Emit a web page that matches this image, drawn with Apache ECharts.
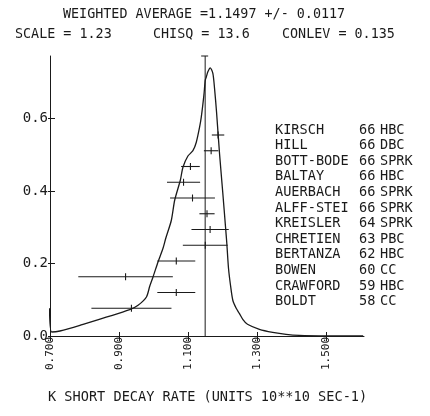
<!DOCTYPE html>
<html><head><meta charset="utf-8">
<script src="https://cdn.jsdelivr.net/npm/echarts@6/dist/echarts.min.js"></script>
<style>html,body{margin:0;padding:0;background:#fff}#c{width:430px;height:416px}</style>
</head><body><div id="c"></div>
<script>
// ---- data ----
const names   = ['KIRSCH','HILL','BOTT-BODE','BALTAY','AUERBACH','ALFF-STEI','KREISLER','CHRETIEN','BERTANZA','BOWEN','CRAWFORD','BOLDT'];
const years   = ['66','66','66','66','66','66','64','63','62','60','59','58'];
const methods = ['HBC','DBC','SPRK','HBC','SPRK','SPRK','SPRK','PBC','HBC','CC','HBC','CC'];
const values  = [1.187,1.167,1.107,1.087,1.113,1.155,1.164,1.150,1.066,0.919,1.066,0.936];
const errors  = [0.018,0.021,0.027,0.048,0.065,0.022,0.054,0.065,0.055,0.137,0.055,0.116];
const weightedAverage = 1.1497, averageError = 0.0117, scaleFactor = 1.23, chiSquare = 13.6, confLevel = 0.135;
const curveX = [0.6986,0.7049,0.7289,0.7867,0.9312,0.9552,0.9795,0.989,0.9986,1.013,1.0275,1.0353,1.0517,1.0613,1.0777,1.0853,1.0997,1.1142,1.124,1.1335,1.1384,1.146,1.150,1.1529,1.1575,1.1645,1.172,1.1769,1.1827,1.1913,1.2009,1.2087,1.2124,1.2173,1.2231,1.2298,1.2396,1.2491,1.2587,1.2723,1.3069,1.3454,1.3841,1.4225,1.5092,1.6075];
const curveY = [0.0764,0.011,0.0138,0.0295,0.0728,0.0847,0.1076,0.137,0.1628,0.2041,0.2419,0.2687,0.3192,0.3743,0.4295,0.4654,0.4962,0.5109,0.5343,0.5757,0.6033,0.664,0.7054,0.7137,0.7283,0.7393,0.7239,0.6825,0.6171,0.5032,0.3928,0.3007,0.2557,0.1868,0.1399,0.0985,0.0764,0.0618,0.0461,0.0323,0.0185,0.0102,0.0047,0.0019,0.0005,0.0002];
const xTicks = [0.7,0.9,1.1,1.3,1.5];
const yTicks = [0,0.2,0.4,0.6];
const xTitle = 'K SHORT DECAY RATE (UNITS 10**10 SEC-1)';

// ---- chart ----
const FONT = 'DejaVu Sans Mono';
const INK = '#1a1a1a';
const chart = echarts.init(document.getElementById('c'), null, {renderer:'canvas'});

const barData = values.map((v,i)=>[v, errors[i], i]);
const curveData = curveX.map((x,i)=>[x, curveY[i]]);

const graphics = [];
graphics.push({type:'text', x:63, y:15, style:{text:`WEIGHTED AVERAGE =${weightedAverage.toFixed(4)} +/- ${averageError.toFixed(4)}`, font:`13.4px "${FONT}"`, fill:INK, textVerticalAlign:'middle'}});
graphics.push({type:'text', x:15, y:35, style:{text:`SCALE = ${scaleFactor.toFixed(2)}`, font:`13.4px "${FONT}"`, fill:INK, textVerticalAlign:'middle'}});
graphics.push({type:'text', x:153, y:35, style:{text:`CHISQ = ${chiSquare.toFixed(1)}`, font:`13.4px "${FONT}"`, fill:INK, textVerticalAlign:'middle'}});
graphics.push({type:'text', x:282, y:35, style:{text:`CONLEV = ${confLevel.toFixed(3)}`, font:`13.4px "${FONT}"`, fill:INK, textVerticalAlign:'middle'}});
graphics.push({type:'text', x:48, y:397, style:{text:xTitle, font:`13.6px "${FONT}"`, fill:INK, textVerticalAlign:'middle'}});
names.forEach((n,i)=>{
  graphics.push({type:'text', x:275, y:130 + 15.6*i, style:{text:n, font:`13.6px "${FONT}"`, fill:INK, textVerticalAlign:'middle'}});
  graphics.push({type:'text', x:359, y:130 + 15.6*i, style:{text:years[i], font:`13.6px "${FONT}"`, fill:INK, textVerticalAlign:'middle'}});
  graphics.push({type:'text', x:380, y:130 + 15.6*i, style:{text:methods[i], font:`13.6px "${FONT}"`, fill:INK, textVerticalAlign:'middle'}});
});

const option = {
  animation:false,
  backgroundColor:'#fff',
  grid:{left:50, right:66, top:56, bottom:80},
  xAxis:[
    {type:'value', min:0.7, max:1.61, position:'bottom',
     axisLine:{show:true, onZero:false, lineStyle:{color:INK, width:1}},
     splitLine:{show:false},
     axisTick:{show:true, customValues:xTicks, length:5, inside:false, lineStyle:{color:INK}},
     axisLabel:{show:true, customValues:xTicks, rotate:90, margin:1, formatter:v=>v.toFixed(3), fontFamily:FONT, fontSize:11, color:INK}},
    {type:'value', min:0.7, max:1.61, position:'bottom',
     axisLine:{show:false}, splitLine:{show:false},
     axisTick:{show:true, customValues:xTicks, length:4, inside:true, lineStyle:{color:INK}},
     axisLabel:{show:false}}
  ],
  yAxis:[
    {type:'value', min:0, max:0.772, position:'left',
     axisLine:{show:true, onZero:false, lineStyle:{color:INK, width:1}},
     splitLine:{show:false},
     axisTick:{show:true, customValues:yTicks, length:5, inside:true, lineStyle:{color:INK}},
     axisLabel:{show:true, customValues:yTicks, margin:2, formatter:v=>v.toFixed(1), fontFamily:FONT, fontSize:14, color:INK}},
    {type:'value', min:0, max:0.772, position:'left',
     axisLine:{show:false}, splitLine:{show:false},
     axisTick:{show:true, customValues:yTicks, length:2, inside:false, lineStyle:{color:INK}},
     axisLabel:{show:false}},
    {type:'value', min:-5.016, max:12.762, inverse:true, show:false, position:'left'}
  ],
  graphic: graphics,
  series:[
    {type:'line', xAxisIndex:0, yAxisIndex:0, data:curveData, showSymbol:false, smooth:0.25,
     lineStyle:{color:INK, width:1.3}, z:3},
    {type:'custom', xAxisIndex:0, yAxisIndex:0, data:[[weightedAverage]],
     renderItem:(params, api)=>{
       const cs = params.coordSys;
       const px = api.coord([api.value(0), 0])[0];
       const top = cs.y, bot = cs.y + cs.height;
       return {type:'group', children:[
         {type:'line', shape:{x1:px, y1:bot, x2:px, y2:top}, style:{stroke:INK, lineWidth:1}},
         {type:'line', shape:{x1:px-4, y1:top, x2:px+3, y2:top}, style:{stroke:INK, lineWidth:1}}
       ]};
     }, z:2},
    {type:'custom', xAxisIndex:0, yAxisIndex:2, data:barData,
     renderItem:(params, api)=>{
       const v = api.value(0), e = api.value(1), r = api.value(2);
       const a = api.coord([v-e, r]), b = api.coord([v+e, r]), c = api.coord([v, r]);
       return {type:'group', children:[
         {type:'line', shape:{x1:a[0], y1:a[1], x2:b[0], y2:b[1]}, style:{stroke:INK, lineWidth:1.1}},
         {type:'line', shape:{x1:c[0], y1:c[1]-3.5, x2:c[0], y2:c[1]+3.5}, style:{stroke:INK, lineWidth:1.1}}
       ]};
     }, z:4}
  ]
};
chart.setOption(option);
</script></body></html>
